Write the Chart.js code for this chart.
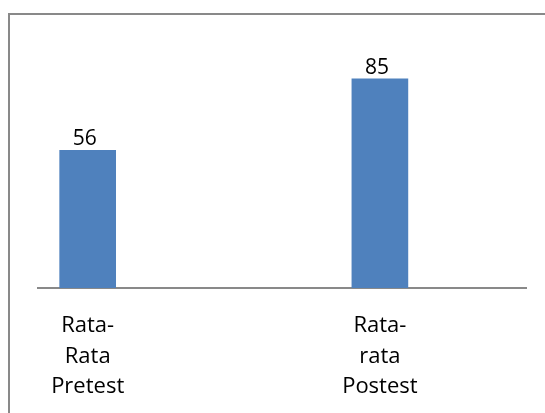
<!DOCTYPE html>
<html>
<head>
<meta charset="utf-8">
<script src="https://cdn.jsdelivr.net/npm/chart.js@4.4.1/dist/chart.umd.min.js"></script>
<style>
  html, body { margin: 0; padding: 0; background: #fff; overflow: hidden; }
  #wrap { position: relative; width: 545px; height: 413px; }
  #frame { position: absolute; left: 8px; top: 13px; width: 600px; height: 500px;
           border-left: 2px solid #898989; border-top: 2px solid #898989; box-sizing: border-box; }
  canvas { position: absolute; left: 0; top: 0; }
</style>
</head>
<body>
<div id="wrap">
  <div id="frame"></div>
  <canvas id="c" width="545" height="413"></canvas>
</div>
<script>
const categories = [["Rata-", "Rata", "Pretest"], ["Rata-", "rata", "Postest"]];
const values = [56, 85];

const FONT = "'Open Sans', 'Noto Sans', sans-serif";

const valueLabels = {
  id: 'valueLabels',
  afterDatasetsDraw(chart) {
    const ctx = chart.ctx;
    const meta = chart.getDatasetMeta(0);
    ctx.save();
    ctx.fillStyle = '#000';
    ctx.font = '21px ' + FONT;
    ctx.textAlign = 'center';
    ctx.textBaseline = 'alphabetic';
    meta.data.forEach((bar, i) => {
      ctx.fillText(String(values[i]), bar.x - 3, bar.y - 5);
    });
    ctx.restore();
  }
};

new Chart(document.getElementById('c'), {
  type: 'bar',
  data: {
    datasets: [{
      data: values.map((v, i) => ({ x: i, y: v })),
      backgroundColor: '#4F81BD',
      borderWidth: 0,
      barThickness: 56
    }]
  },
  options: {
    responsive: false,
    animation: false,
    layout: { padding: { top: 42, left: 38, right: 19, bottom: 10 } },
    plugins: { legend: { display: false }, tooltip: { enabled: false } },
    scales: {
      x: {
        type: 'linear',
        offset: false,
        bounds: 'ticks',
        min: -0.17,
        max: 1.5,
        grid: { display: false, drawTicks: false },
        border: { display: true, color: '#898989', width: 2 },
        afterBuildTicks: (scale) => { scale.ticks = categories.map((_, i) => ({ value: i })); },
        afterFit: (scale) => { scale.height = 115; },
        ticks: {
          autoSkip: false,
          maxRotation: 0,
          padding: 23,
          color: '#000',
          font: { family: FONT, size: 22, lineHeight: 1.38 },
          callback: (v) => categories[v]
        }
      },
      y: {
        display: false,
        min: 0,
        max: 100
      }
    }
  },
  plugins: [valueLabels]
});
</script>
</body>
</html>
